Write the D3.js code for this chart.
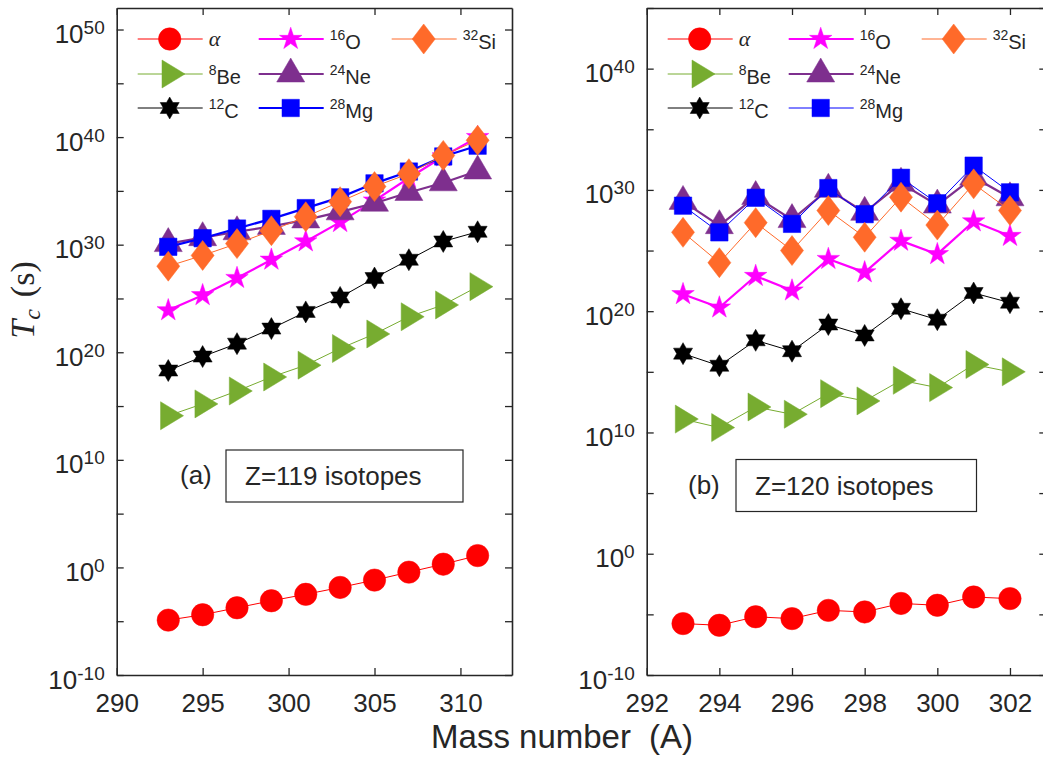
<!DOCTYPE html>
<html>
<head>
<meta charset="utf-8">
<script src="https://cdn.jsdelivr.net/npm/d3@7"></script>
<style>
  body { margin: 0; background: #fff; }
  svg text { font-family: "Liberation Sans", Arial, Helvetica, sans-serif; fill: #262626; }
</style>
</head>
<body>
<div id="chart"></div>
<script>
// mass numbers A
const massA = [293, 295, 297, 299, 301, 303, 305, 307, 309, 311];
const massB = [293, 294, 295, 296, 297, 298, 299, 300, 301, 302];

// log10(Tc / s) for Z=119 isotopes
const alphaA = [-4.9, -4.4, -3.75, -3.1, -2.5, -1.86, -1.18, -0.44, 0.3, 1.1];
const be8A   = [14.1, 15.2, 16.4, 17.7, 18.8, 20.35, 21.7, 23.3, 24.4, 26.1];
const c12A   = [18.3, 19.6, 20.8, 22.2, 23.75, 25.1, 26.9, 28.6, 30.3, 31.2];
const o16A   = [23.9, 25.3, 26.9, 28.6, 30.3, 32.1, 34.1, 36.2, 38.2, 40.0];
const ne24A  = [30.1, 30.65, 31.2, 31.7, 32.3, 33.05, 33.85, 34.85, 35.75, 36.85];
const mg28A  = [29.8, 30.6, 31.5, 32.4, 33.4, 34.4, 35.7, 36.8, 38.2, 39.2];
const si32A  = [28.0, 29.0, 30.1, 31.3, 32.6, 34.0, 35.4, 36.6, 38.3, 39.7];

// log10(Tc / s) for Z=120 isotopes
const alphaB = [-5.76, -5.9, -5.2, -5.35, -4.67, -4.8, -4.1, -4.25, -3.57, -3.7];
const be8B   = [11.1, 10.4, 12.1, 11.5, 13.2, 12.6, 14.3, 13.7, 15.6, 15.0];
const c12B   = [16.5, 15.5, 17.6, 16.7, 18.9, 18.0, 20.2, 19.3, 21.5, 20.7];
const o16B   = [21.4, 20.3, 22.9, 21.7, 24.3, 23.2, 25.8, 24.7, 27.4, 26.2];
const ne24B  = [29.05, 27.05, 29.45, 27.55, 30.05, 28.15, 30.55, 28.75, 31.05, 29.35];
const mg28B  = [28.7, 26.5, 29.35, 27.2, 30.15, 28.0, 31.0, 28.9, 32.0, 29.8];
const si32B  = [26.5, 24.0, 27.3, 25.0, 28.3, 26.1, 29.4, 27.1, 30.5, 28.3];

// series labels (superscript mass + symbol)
const seriesSup  = ["", "8", "12", "16", "24", "28", "32"];
const seriesElem = ["α", "Be", "C", "O", "Ne", "Mg", "Si"];

// tick labels
const xTicksA = [290, 295, 300, 305, 310];
const xTicksB = [292, 294, 296, 298, 300, 302];

// styles
const colors  = ["#ff0000", "#77ac30", "#000000", "#ff00ff", "#7e2f8e", "#0000ff", "#ff6a2a"];
const shapes  = ["circle", "triRight", "hexagram", "pentagram", "triUp", "square", "diamond"];
const widthsA = [1, 1, 1, 2.2, 2.2, 2.2, 1];
const widthsB = [1, 1, 1, 2.2, 2.2, 1, 1];
const axisColor = "#262626";

const width = 1043;
const height = 761;

const svg = d3.select("#chart")
  .append("svg")
  .attr("width", width)
  .attr("height", height);

svg.append("rect").attr("width", width).attr("height", height).attr("fill", "#fff");

// marker shapes, centred on the data point (triangles on centroid)
const starPath = (n, R, r) => {
  const p = d3.path();
  for (let i = 0; i < 2 * n; i++) {
    const a = -Math.PI / 2 + i * Math.PI / n;
    const rr = i % 2 === 0 ? R : r;
    if (i === 0) p.moveTo(rr * Math.cos(a), rr * Math.sin(a));
    else p.lineTo(rr * Math.cos(a), rr * Math.sin(a));
  }
  p.closePath();
  return p.toString();
};

const markerPath = (shape) => {
  switch (shape) {
    case "circle": {
      const p = d3.path();
      p.arc(0, 0, 11.2, 0, 2 * Math.PI);
      return p.toString();
    }
    case "triRight": return "M-7.7,-14L15.3,0L-7.7,14Z";
    case "hexagram": return starPath(6, 11, 11 / Math.sqrt(3));
    case "pentagram": return starPath(5, 11.8, 11.8 * 0.382);
    case "triUp": return "M0,-16L14,8L-14,8Z";
    case "square": return "M-8.7,-8.7H8.7V8.7H-8.7Z";
    case "diamond": return "M0,-15L11.5,0L0,15L-11.5,0Z";
  }
};

const panels = [
  {
    mass: massA,
    values: [alphaA, be8A, c12A, o16A, ne24A, mg28A, si32A],
    widths: widthsA,
    xDomain: [290, 313],
    yDomain: [1e-10, 1e52],
    xTicks: xTicksA,
    box: { left: 116.7, right: 512, top: 8, bottom: 675 },
    tag: "(a)",
    note: "Z=119 isotopes",
    noteAt: { tagX: 180, boxX: 226, boxY: 450, boxW: 237, boxH: 52 }
  },
  {
    mass: massB,
    values: [alphaB, be8B, c12B, o16B, ne24B, mg28B, si32B],
    widths: widthsB,
    xDomain: [292, 303],
    yDomain: [1e-10, 1e45],
    xTicks: xTicksB,
    box: { left: 646.7, right: 1046.3, top: 8, bottom: 675 },
    tag: "(b)",
    note: "Z=120 isotopes",
    noteAt: { tagX: 688, boxX: 736, boxY: 459.5, boxW: 240.5, boxH: 52 }
  }
];

const drawPanel = (panel) => {
  const b = panel.box;

  const xScale = d3.scaleLinear().domain(panel.xDomain).range([b.left, b.right]);
  const yScale = d3.scaleLog().domain(panel.yDomain).range([b.bottom, b.top]);

  const maxExp = Math.round(Math.log10(panel.yDomain[1]));
  const yTicks = d3.range(-10, maxExp + 1, 5).map(e => Math.pow(10, e));

  const g = svg.append("g");

  // data
  panel.values.forEach((vals, i) => {
    const pts = vals.map((v, j) => ({ m: panel.mass[j], t: Math.pow(10, v) }));
    const line = d3.line().x(d => xScale(d.m)).y(d => yScale(d.t));
    g.append("path")
      .datum(pts)
      .attr("d", line)
      .attr("fill", "none")
      .attr("stroke", colors[i])
      .attr("stroke-width", panel.widths[i]);
    g.selectAll(null)
      .data(pts)
      .join("path")
        .attr("d", markerPath(shapes[i]))
        .attr("transform", d => `translate(${xScale(d.m)},${yScale(d.t)})`)
        .attr("fill", colors[i])
        .attr("stroke", colors[i])
        .attr("stroke-width", 0.5);
  });

  // axes (ticks point inward)
  const bottomAxis = d3.axisBottom(xScale).tickValues(panel.xTicks)
    .tickSizeInner(-7).tickSizeOuter(0).tickPadding(19);
  const topAxis = d3.axisTop(xScale).tickValues(panel.xTicks)
    .tickSizeInner(-7).tickSizeOuter(0).tickFormat("");
  const leftAxis = d3.axisLeft(yScale).tickValues(yTicks)
    .tickSizeInner(-7).tickSizeOuter(0).tickPadding(12).tickFormat("");
  const rightAxis = d3.axisRight(yScale).tickValues(yTicks)
    .tickSizeInner(-7).tickSizeOuter(0).tickFormat("");

  const gx = g.append("g").attr("transform", `translate(0,${b.bottom})`).call(bottomAxis);
  g.append("g").attr("transform", `translate(0,${b.top})`).call(topAxis);
  const gy = g.append("g").attr("transform", `translate(${b.left},0)`).call(leftAxis);
  g.append("g").attr("transform", `translate(${b.right},0)`).call(rightAxis);

  g.selectAll(".domain").attr("stroke", axisColor).attr("stroke-width", 1.6);
  g.selectAll(".tick line").attr("stroke", axisColor).attr("stroke-width", 1.3);

  gx.selectAll(".tick text")
    .attr("font-size", 26)
    .attr("fill", axisColor);

  gy.selectAll(".tick").each(function (d) {
    const e = Math.round(Math.log10(d));
    const t = d3.select(this).select("text");
    if (e % 10 !== 0) return;
    t.attr("dy", 13).attr("font-size", 26).attr("fill", axisColor);
    t.append("tspan").text("10");
    t.append("tspan").attr("dy", -9).attr("font-size", 19).text(String(e));
  });

  // legend
  const colX = [0, 120, 254];
  const rowY = [39, 74, 108];
  panel.values.forEach((vals, i) => {
    const col = i < 3 ? 0 : (i < 6 ? 1 : 2);
    const row = i < 3 ? i : (i < 6 ? i - 3 : 0);
    const lx = b.left + 21 + colX[col] + (col === 1 ? 1 : 0);
    const ly = rowY[row];
    const lg = g.append("g");
    lg.append("line")
      .attr("x1", lx).attr("x2", lx + 65)
      .attr("y1", ly).attr("y2", ly)
      .attr("stroke", colors[i])
      .attr("stroke-width", panel.widths[i]);
    lg.append("path")
      .attr("d", markerPath(shapes[i]))
      .attr("transform", `translate(${lx + 32},${ly})`)
      .attr("fill", colors[i])
      .attr("stroke", colors[i])
      .attr("stroke-width", 0.5);
    const txt = lg.append("text")
      .attr("x", lx + 71)
      .attr("y", ly + 10)
      .attr("font-size", 20)
      .attr("fill", "#000");
    if (seriesSup[i] === "") {
      txt.append("tspan")
        .attr("font-family", "Liberation Serif, serif")
        .attr("font-style", "italic")
        .attr("font-size", 22)
        .attr("dy", -3)
        .text(seriesElem[i]);
    } else {
      txt.append("tspan").attr("font-size", 14).attr("dy", -9).text(seriesSup[i]);
      txt.append("tspan").attr("dy", 9).text(seriesElem[i]);
    }
  });

  // panel tag and boxed note
  const n = panel.noteAt;
  g.append("text")
    .attr("x", n.tagX)
    .attr("y", n.boxY + 34)
    .attr("font-size", 26)
    .attr("fill", "#000")
    .text(panel.tag);
  g.append("rect")
    .attr("x", n.boxX).attr("y", n.boxY)
    .attr("width", n.boxW).attr("height", n.boxH)
    .attr("fill", "#fff")
    .attr("stroke", axisColor)
    .attr("stroke-width", 1.2);
  g.append("text")
    .attr("x", n.boxX + 19)
    .attr("y", n.boxY + 35)
    .attr("font-size", 26)
    .attr("fill", "#000")
    .text(panel.note);
};

panels.forEach(drawPanel);

// axis titles
const yLabel = svg.append("text")
  .attr("transform", "translate(34,300) rotate(-90)")
  .attr("text-anchor", "middle")
  .attr("font-size", 34)
  .style("font-family", "'Liberation Serif', serif")
  .style("fill", "#262626");
yLabel.append("tspan").attr("font-style", "italic").text("T");
yLabel.append("tspan").attr("font-style", "italic").attr("font-size", 24).attr("dy", 6).text("c");
yLabel.append("tspan").attr("dy", -6).attr("dx", 12).text("(s)");

const xLabel = svg.append("text")
  .attr("x", 562)
  .attr("y", 748)
  .attr("text-anchor", "middle")
  .attr("font-size", 33)
  .style("fill", "#262626");
xLabel.append("tspan").text("Mass number");
xLabel.append("tspan").attr("dx", 18).text("(A)");
</script>
</body>
</html>
